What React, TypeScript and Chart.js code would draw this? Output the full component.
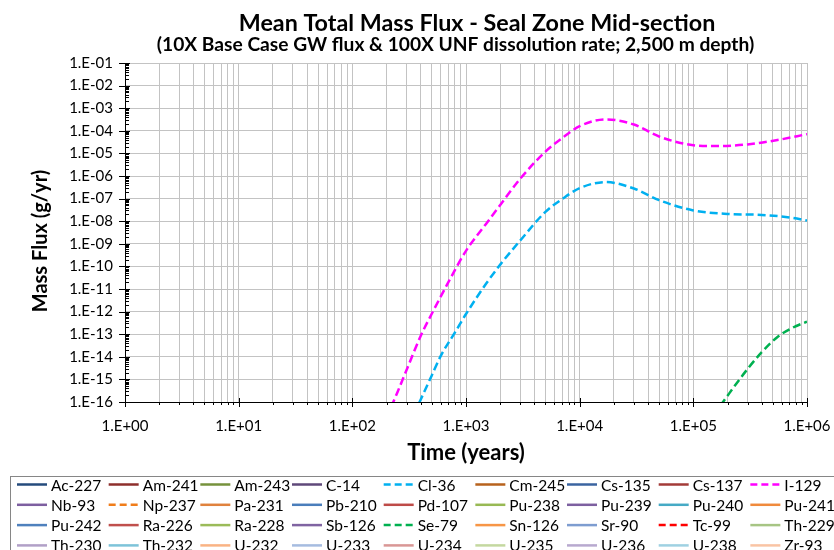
import React, { useEffect, useRef } from 'react';
import { Chart, registerables } from 'chart.js';

Chart.register(...registerables);

// ---------- Data ----------
const nuclides = [
  'Ac-227', 'Am-241', 'Am-243', 'C-14', 'Cl-36', 'Cm-245', 'Cs-135', 'Cs-137', 'I-129',
  'Nb-93', 'Np-237', 'Pa-231', 'Pb-210', 'Pd-107', 'Pu-238', 'Pu-239', 'Pu-240', 'Pu-241',
  'Pu-242', 'Ra-226', 'Ra-228', 'Sb-126', 'Se-79', 'Sn-126', 'Sr-90', 'Tc-99', 'Th-229',
  'Th-230', 'Th-232', 'U-232', 'U-233', 'U-234', 'U-235', 'U-236', 'U-238', 'Zr-93',
];
const nuclideColors = [
  '#254B7C', '#8E2F2C', '#76923C', '#5F497A', '#00B0F0', '#B7621D', '#3B64A0', '#A33B38', '#FF00FF',
  '#7D5FA0', '#F07D1A', '#E0823D', '#4A7EBB', '#BE4B48', '#98B954', '#7D60A0', '#46AAC5', '#F08A3C',
  '#4F81BD', '#C0504D', '#9BBB59', '#8064A2', '#00B050', '#F79646', '#7E9DD0', '#FF0000', '#A7C584',
  '#B1A0C7', '#7DC3D9', '#F9B384', '#A6BCE0', '#D99795', '#C4D8A0', '#B8A9CF', '#9FD1E2', '#F9C4A4',
];
const dashedNuclides = ['Cl-36', 'I-129', 'Np-237', 'Se-79', 'Tc-99'];

const i129Time = [200, 250, 300, 400, 500, 700, 1000, 1500, 2000, 3000, 5000, 7000, 10000, 17000, 30000, 50000, 100000, 160000, 300000, 550000, 1000000];
const i129Flux = [2e-17, 2.8e-16, 2.6e-15, 8.5e-14, 8e-13, 2e-11, 4.9e-10, 7.6e-9, 5.2e-8, 7.6e-7, 1.2e-5, 4.7e-5, 1.6e-4, 3.2e-4, 1.9e-4, 5.6e-5, 2.3e-5, 2.1e-5, 2.5e-5, 3.9e-5, 7.1e-5];

const cl36Time = [350, 400, 500, 600, 800, 1000, 1500, 2000, 3000, 5000, 7000, 10000, 17000, 30000, 50000, 100000, 200000, 400000, 750000, 1000000];
const cl36Flux = [3e-17, 1.3e-16, 1.5e-15, 1.1e-14, 1.2e-13, 7.8e-13, 1.7e-11, 1.2e-10, 1.4e-9, 2.6e-8, 9.5e-8, 2.9e-7, 5.4e-7, 2.8e-7, 8.5e-8, 3e-8, 2.1e-8, 1.9e-8, 1.4e-8, 1.07e-8];

const se79Time = [150000, 200000, 300000, 400000, 550000, 750000, 1000000];
const se79Flux = [2.5e-17, 1.9e-16, 2.9e-15, 1.6e-14, 7.6e-14, 1.95e-13, 3.6e-13];

const timeDecades = [1, 10, 100, 1000, 10000, 100000, 1000000];
const fluxDecades = [1e-16, 1e-15, 1e-14, 1e-13, 1e-12, 1e-11, 1e-10, 1e-9, 1e-8, 1e-7, 1e-6, 1e-5, 1e-4, 1e-3, 1e-2, 1e-1];

const titleText = 'Mean Total Mass Flux - Seal Zone Mid-section';
const subtitleText = '(10X Base Case GW flux & 100X UNF dissolution rate; 2,500 m depth)';
const xTitle = 'Time (years)';
const yTitle = 'Mass Flux (g/yr)';

const FONT = 'Lato, "Open Sans", sans-serif';

const seriesData: Record<string, { t: number[]; v: number[] }> = {
  'I-129': { t: i129Time, v: i129Flux },
  'Cl-36': { t: cl36Time, v: cl36Flux },
  'Se-79': { t: se79Time, v: se79Flux },
};

function fmtExp(v: number): string {
  const e = Math.round(Math.log10(v));
  return '1.E' + (e < 0 ? '-' : '+') + String(Math.abs(e)).padStart(2, '0');
}
function isDecade(v: number): boolean {
  const l = Math.log10(v);
  return Math.abs(l - Math.round(l)) < 1e-9;
}

const xTickValues: number[] = [];
timeDecades.forEach((d, i) => {
  if (i === timeDecades.length - 1) { xTickValues.push(d); return; }
  for (let m = 1; m <= 9; m++) xTickValues.push(m * d);
});

const decorPlugin = {
  id: 'decor',
  afterDraw(chart: any) {
    const { ctx, chartArea } = chart;
    const xs = chart.scales.x;
    const ys = chart.scales.y;
    ctx.save();

    // titles
    ctx.fillStyle = '#000';
    ctx.textAlign = 'center';
    ctx.textBaseline = 'alphabetic';
    ctx.font = 'bold 23.3px ' + FONT;
    ctx.fillText(titleText, 477, 31);
    ctx.font = 'bold 19.2px ' + FONT;
    ctx.fillText(subtitleText, 455.5, 51);

    // y axis title
    ctx.save();
    ctx.translate(41, 241);
    ctx.rotate(-Math.PI / 2);
    ctx.textBaseline = 'middle';
    ctx.font = 'bold 20px ' + FONT;
    ctx.fillText(yTitle, 0, 0);
    ctx.restore();

    // tick marks
    ctx.strokeStyle = '#000';
    ctx.lineWidth = 1;
    ctx.beginPath();
    fluxDecades.forEach((d, i) => {
      const y = Math.round(ys.getPixelForValue(d)) + 0.5;
      ctx.moveTo(chartArea.left - 6, y);
      ctx.lineTo(chartArea.left + 5, y);
      if (i < fluxDecades.length - 1) {
        for (let m = 2; m <= 9; m++) {
          const ym = Math.round(ys.getPixelForValue(m * d)) + 0.5;
          ctx.moveTo(chartArea.left, ym);
          ctx.lineTo(chartArea.left + 4, ym);
        }
      }
    });
    xTickValues.forEach((v) => {
      const x = Math.round(xs.getPixelForValue(v)) + 0.5;
      if (isDecade(v)) {
        ctx.moveTo(x, chartArea.bottom - 4);
        ctx.lineTo(x, chartArea.bottom + 5);
      } else {
        ctx.moveTo(x, chartArea.bottom);
        ctx.lineTo(x, chartArea.bottom + 3);
      }
    });
    ctx.stroke();

    // legend
    const ds = chart.data.datasets;
    ctx.strokeStyle = '#868686';
    ctx.lineWidth = 1;
    ctx.strokeRect(10.5, 476.5, 840, 90);
    ctx.font = '15.5px ' + FONT;
    ctx.textBaseline = 'middle';
    ctx.textAlign = 'left';
    ds.forEach((d: any, i: number) => {
      const col = i % 9;
      const row = Math.floor(i / 9);
      const x0 = 17 + col * 91.67;
      const yc = 484.5 + row * 20.3;
      ctx.beginPath();
      ctx.strokeStyle = d.borderColor;
      ctx.lineWidth = 2.5;
      ctx.setLineDash(d.borderDash && d.borderDash.length ? [7, 4] : []);
      ctx.moveTo(x0, yc);
      ctx.lineTo(x0 + 30, yc);
      ctx.stroke();
      ctx.setLineDash([]);
      ctx.fillStyle = '#000';
      ctx.fillText(d.label, x0 + 34, yc + 1);
    });
    ctx.restore();
  },
};

export default function App() {
  const canvasRef = useRef<HTMLCanvasElement | null>(null);

  useEffect(() => {
    const canvas = canvasRef.current;
    if (!canvas) return;
    const datasets = nuclides.map((name, i) => {
      const s = seriesData[name];
      const dashed = dashedNuclides.includes(name);
      return {
        label: name,
        data: s ? s.t.map((t, k) => ({ x: t, y: s.v[k] })) : [],
        borderColor: nuclideColors[i],
        backgroundColor: nuclideColors[i],
        borderWidth: 2.5,
        borderDash: dashed ? [8, 4] : [],
        pointRadius: 0,
        cubicInterpolationMode: 'monotone' as const,
        fill: false,
      };
    });

    const chart = new Chart(canvas, {
      type: 'line',
      data: { datasets },
      plugins: [decorPlugin],
      options: {
        responsive: false,
        animation: false,
        layout: { padding: { top: 63, right: 27, bottom: 78, left: 0 } },
        plugins: {
          legend: { display: false },
          tooltip: { enabled: false },
          title: { display: false },
          subtitle: { display: false },
        },
        scales: {
          x: {
            type: 'logarithmic',
            min: 1,
            max: 1e6,
            afterBuildTicks: (scale: any) => {
              scale.ticks = xTickValues.map((v) => ({ value: v }));
            },
            afterFit: (scale: any) => {
              scale.height = 70;
              scale.paddingLeft = 0;
              scale.paddingRight = 0;
            },
            grid: { color: '#c3c3c3', lineWidth: 1, drawTicks: false },
            border: { color: '#000', width: 1 },
            ticks: {
              autoSkip: false,
              maxRotation: 0,
              padding: 15,
              color: '#000',
              font: { family: FONT, size: 15 },
              callback: (v: any) => (isDecade(Number(v)) ? fmtExp(Number(v)) : ''),
            },
            title: {
              display: true,
              text: xTitle,
              color: '#000',
              font: { family: FONT, size: 22, weight: 'bold' },
              padding: { top: 0, bottom: 6 },
            },
          },
          y: {
            type: 'logarithmic',
            min: 1e-16,
            max: 1e-1,
            afterBuildTicks: (scale: any) => {
              scale.ticks = fluxDecades.map((v) => ({ value: v }));
            },
            afterFit: (scale: any) => {
              scale.width = 125;
              scale.paddingTop = 0;
              scale.paddingBottom = 0;
            },
            grid: { color: '#c3c3c3', lineWidth: 1, drawTicks: false },
            border: { color: '#000', width: 1 },
            ticks: {
              padding: 12,
              color: '#000',
              font: { family: FONT, size: 15 },
              callback: (v: any) => fmtExp(Number(v)),
            },
            title: { display: false },
          },
        },
      } as any,
    });
    return () => chart.destroy();
  }, []);

  return (
    <div style={{ position: 'fixed', left: 0, top: 0, width: 834, height: 550, background: '#fff', overflow: 'hidden' }}>
      <canvas ref={canvasRef} width={834} height={550} style={{ display: 'block' }} />
    </div>
  );
}
